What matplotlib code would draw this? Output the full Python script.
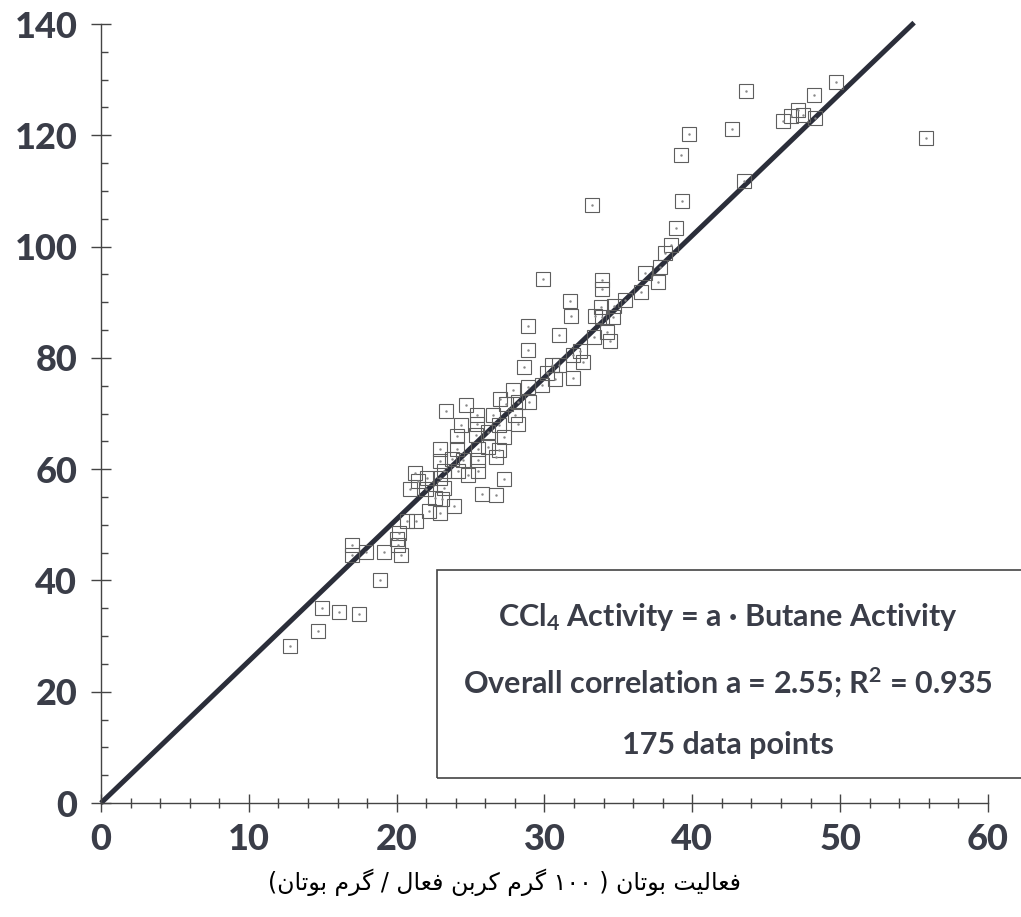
import re
import matplotlib.pyplot as plt
from matplotlib.patches import Rectangle

plt.rcParams['font.family'] = ['Lato', 'DejaVu Sans']
plt.rcParams['mathtext.fontset'] = 'custom'
plt.rcParams['mathtext.rm'] = 'Lato:bold'
plt.rcParams['mathtext.default'] = 'rm'

# Data
butane = [12.8, 14.65, 14.94, 16.08, 17.44, 16.96, 16.95, 17.9, 18.89, 19.12,
          20.27, 20.01, 20.15, 20.1, 20.7, 21.31, 20.87, 21.22, 21.43, 22.03,
          22.0, 22.2, 22.56, 22.9, 22.94, 22.9, 23.05, 23.31, 23.2, 23.2,
          22.9, 23.74, 23.9, 24.1, 24.1, 24.15, 24.38, 24.5, 24.67, 24.8,
          25.35, 25.42, 25.42, 25.48, 25.5, 25.5, 25.8, 26.2, 26.2, 26.5,
          26.7, 26.7, 26.9, 26.95, 26.98, 27.25, 27.25, 27.9, 28.0, 28.2,
          28.9, 28.95, 29.8, 27.4, 28.2, 30.7, 31.9, 30.2, 30.5, 31.0,
          31.9, 32.6, 32.4, 28.6, 28.9, 28.9, 30.95, 29.9, 31.7, 31.8,
          33.4, 33.35, 33.8, 33.9, 34.6, 34.2, 34.4, 33.9, 33.9, 33.2,
          34.7, 35.45, 36.5, 37.7, 36.8, 37.8, 38.15, 38.55, 38.9, 39.3,
          39.2, 39.8, 42.7, 43.65, 43.5, 46.1, 46.7, 47.15, 47.5, 48.3,
          48.2, 49.7, 55.8]
ccl4 = [28.25, 30.87, 34.98, 34.4, 34.0, 46.4, 44.6, 45.1, 40.05, 45.06,
        44.5, 47.5, 48.6, 46.3, 50.7, 50.7, 56.5, 59.3, 57.9, 58.4,
        56.4, 52.5, 54.8, 58.4, 63.6, 52.1, 54.6, 70.4, 59.6, 56.6,
        61.4, 61.9, 53.3, 65.9, 63.7, 59.6, 68.0, 61.7, 71.6, 59.0,
        66.2, 69.8, 68.2, 63.7, 61.7, 59.6, 55.6, 66.7, 64.0, 69.7,
        62.2, 55.4, 67.9, 63.5, 72.6, 65.8, 58.2, 74.2, 69.7, 68.1,
        74.7, 72.0, 75.2, 71.7, 72.0, 76.2, 76.3, 77.3, 78.7, 78.7,
        80.5, 79.2, 81.3, 78.3, 81.5, 85.8, 84.1, 94.2, 90.3, 87.5,
        87.6, 83.8, 89.2, 87.4, 87.4, 84.7, 83.1, 94.0, 92.4, 107.4,
        89.3, 90.4, 91.8, 93.6, 95.2, 96.4, 98.9, 100.3, 103.3, 108.2,
        116.4, 120.2, 121.2, 128.0, 111.8, 122.5, 123.5, 124.6, 123.7, 123.1,
        127.3, 129.5, 119.6]
slope = 2.55
line_x = [0, 55]

xlabel = 'فعالیت بوتان ( ۱۰۰ گرم کربن فعال / گرم بوتان)'

# simple arabic shaping: isolated, final, initial, medial
FORMS = {
    'ف': ('\uFED1', '\uFED2', '\uFED3', '\uFED4'),
    'ع': ('\uFEC9', '\uFECA', '\uFECB', '\uFECC'),
    'ا': ('\uFE8D', '\uFE8E', None, None),
    'ل': ('\uFEDD', '\uFEDE', '\uFEDF', '\uFEE0'),
    'ی': ('\uFBFC', '\uFBFD', '\uFBFE', '\uFBFF'),
    'ت': ('\uFE95', '\uFE96', '\uFE97', '\uFE98'),
    'ب': ('\uFE8F', '\uFE90', '\uFE91', '\uFE92'),
    'و': ('\uFEED', '\uFEEE', None, None),
    'ن': ('\uFEE5', '\uFEE6', '\uFEE7', '\uFEE8'),
    'گ': ('\uFB92', '\uFB93', '\uFB94', '\uFB95'),
    'ر': ('\uFEAD', '\uFEAE', None, None),
    'م': ('\uFEE1', '\uFEE2', '\uFEE3', '\uFEE4'),
    'ک': ('\uFB8E', '\uFB8F', '\uFB90', '\uFB91'),
}
MIRROR = {'(': ')', ')': '('}


def shape_rtl(s):
    out = []
    for i, c in enumerate(s):
        if c not in FORMS:
            out.append(MIRROR.get(c, c))
            continue
        iso, fin, ini, med = FORMS[c]
        p = s[i - 1] if i > 0 else ''
        n = s[i + 1] if i + 1 < len(s) else ''
        jp = p in FORMS and FORMS[p][2] is not None
        jn = n in FORMS and ini is not None
        if jp and jn:
            out.append(med)
        elif jp:
            out.append(fin)
        elif jn:
            out.append(ini)
        else:
            out.append(iso)
    tokens = re.findall(r'[۰-۹]+|.', ''.join(out))
    return ''.join(reversed(tokens))


ink = '#3a3d48'
fig = plt.figure(figsize=(10.21, 9.17), dpi=100)
ax = fig.add_axes([0.0989, 0.1243, 0.8688, 0.8495])

ax.plot(line_x, [slope * v for v in line_x], color='#2b2e3a', lw=3.6,
        solid_capstyle='butt', clip_on=False, zorder=2)
ax.plot(butane, ccl4, 's', ms=9.8, mfc='none', mec='#5e5e5e', mew=0.8,
        clip_on=False, zorder=3)
ax.plot(butane, ccl4, '.', ms=1.5, color='#888888', zorder=3)

ax.set_xlim(0, 60)
ax.set_ylim(0, 140)
for s in ['top', 'right']:
    ax.spines[s].set_visible(False)
for s in ['left', 'bottom']:
    ax.spines[s].set_color('#444444')
    ax.spines[s].set_linewidth(1.0)

ax.set_xticks(range(0, 61, 10))
ax.set_xticks(range(0, 61, 2), minor=True)
ax.set_yticks(range(0, 141, 20))
ax.set_yticks(range(0, 141, 5), minor=True)
ax.tick_params(axis='x', which='major', direction='inout', length=13, width=1,
               color='#444444', pad=8)
ax.tick_params(axis='x', which='minor', direction='inout', length=7, width=1,
               color='#444444')
ax.tick_params(axis='y', which='major', direction='inout', length=14, width=1,
               color='#444444', pad=10)
ax.tick_params(axis='y', which='minor', direction='in', length=5, width=1,
               color='#444444')
for lab in ax.get_xticklabels() + ax.get_yticklabels():
    lab.set_fontsize(26)
    lab.set_fontweight('black')
    lab.set_color(ink)

# annotation box
fig.add_artist(Rectangle((0.428, 0.1516), 0.6, 0.2268, transform=fig.transFigure,
                         fill=False, edgecolor='#444444', lw=1.2))
fig.text(0.713, 0.327, r'CCl$_4$ Activity = a ∙ Butane Activity', ha='center',
         va='center', fontsize=22, fontweight='bold', color=ink)
fig.text(0.713, 0.255, r'Overall correlation a = 2.55; R$^2$ = 0.935', ha='center',
         va='center', fontsize=22, fontweight='bold', color=ink)
fig.text(0.713, 0.1876, '175 data points', ha='center', va='center',
         fontsize=22, fontweight='bold', color=ink)

fig.text(0.4946, 0.038, shape_rtl(xlabel), ha='center', va='center',
         fontsize=17, family=['DejaVu Sans'], color='black')

fig.savefig('out.png', dpi=100, facecolor='white')
